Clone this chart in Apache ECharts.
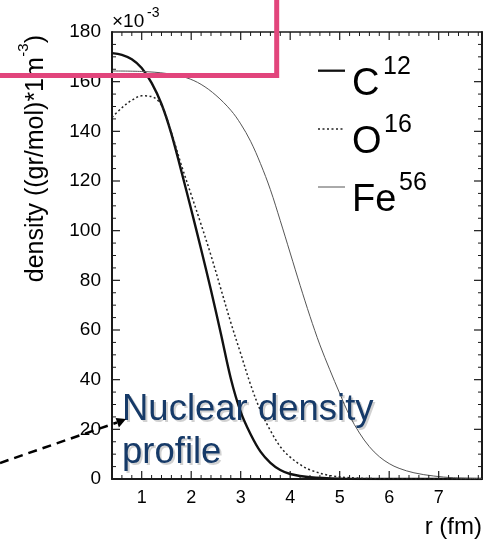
<!DOCTYPE html>
<html>
<head>
<meta charset="utf-8">
<script src="https://cdn.jsdelivr.net/npm/echarts@6/dist/echarts.min.js"></script>
<style>
html,body{margin:0;padding:0;background:#fff;}
#chart{width:491px;height:543px;}
</style>
</head>
<body>
<div id="chart"></div>
<script>
// ---- data ----
const c12R = [0.4,0.6,0.8,1.0,1.2,1.4,1.6,1.8,2.0,2.2,2.4,2.6,2.8,3.0,3.2,3.4,3.6,3.8,4.0,4.4,5.0,6.0,7.875];
const c12V = [171.5,170.8,169,165.5,159.5,151,139,124,108.5,92.5,76,58.5,40.5,27,18,11,6.5,3.6,2,0.7,0.15,0.02,0];
const o16R = [0.4,0.6,0.8,1.0,1.2,1.4,1.6,1.8,2.0,2.2,2.4,2.6,2.8,3.0,3.2,3.4,3.6,3.8,4.0,4.2,4.4,4.8,5.3,6.0,7.875];
const o16V = [145.6,149.5,152.5,154.3,154,150.5,139.5,126.5,114.5,102.5,90,76.5,63,50.5,38,27.5,19.5,13,8.8,5.8,3.7,1.4,0.4,0.1,0];
const fe56R = [0.4,1.0,1.5,1.9,2.2,2.5,2.8,3.0,3.2,3.4,3.6,3.8,4.0,4.2,4.4,4.6,4.8,5.0,5.2,5.4,5.6,5.8,6.0,6.2,6.5,6.9,7.3,7.875];
const fe56V = [164.3,164.1,163.3,161.6,158.9,154.5,148.5,143,136,127,116.5,104,91,78,65.5,54,44,34.5,25.5,18.5,13,9,6.2,4.3,2.5,1.2,0.5,0.15];
const xRange = [0.4, 7.875];
const xMajorTicks = [1, 2, 3, 4, 5, 6, 7];
const xMinorStep = 0.2;
const yRange = [0, 180];
const yStep = 20;
const yMinorStep = 5;
const seriesNames = ['C', 'O', 'Fe'];
const seriesSups = ['12', '16', '56'];
const yTitle = 'density ((gr/mol)*1m';
const yTitleSup = '-3';
const yTitleEnd = ')';
const xTitle = 'r (fm)';
const scaleText = '\u00d710';
const scaleSup = '-3';
const noteLines = ['Nuclear density', 'profile'];

const zip = (a, b) => a.map((v, i) => [v, b[i]]);
const FONTNAME = '"Liberation Sans", Arial, Helvetica, sans-serif';
const AX = '#1a1a1a';

// tick marks (axis furniture): [x, y, direction(0 up,1 down,2 right,3 left), length]
const tickMarks = [];
xMajorTicks.forEach(v => { tickMarks.push([v, yRange[0], 0, 8]); tickMarks.push([v, yRange[1], 1, 8]); });
for (let k = 0; ; k++) {
  const v = Math.round((xRange[0] + k * xMinorStep) * 10) / 10;
  if (v > xRange[1]) break;
  if (Math.abs(v - Math.round(v)) < 1e-6) continue;
  tickMarks.push([v, yRange[0], 0, 4]); tickMarks.push([v, yRange[1], 1, 4]);
}
for (let v = yRange[0] + yMinorStep; v < yRange[1]; v += yMinorStep) {
  const len = (v % yStep === 0) ? 8 : 4;
  tickMarks.push([xRange[0], v, 2, len]); tickMarks.push([xRange[1], v, 3, len]);
}

function xAx(pos) {
  return {
    type: 'value', position: pos, min: xRange[0], max: xRange[1], splitNumber: 8,
    axisLine: {show: true, onZero: false, lineStyle: {color: AX, width: pos === 'bottom' ? 2 : 1.5}},
    axisTick: {show: false},
    axisLabel: {show: pos === 'bottom', showMinLabel: false, showMaxLabel: false, fontSize: 18, color: '#000', margin: 10, fontFamily: FONTNAME},
    splitLine: {show: false}
  };
}
function yAx(pos) {
  return {
    type: 'value', position: pos, min: yRange[0], max: yRange[1], interval: yStep,
    axisLine: {show: true, onZero: false, lineStyle: {color: AX, width: 2}},
    axisTick: {show: false},
    minorTick: {show: false},
    axisLabel: {show: pos === 'left', fontSize: 19, color: '#000', margin: 11, fontFamily: FONTNAME},
    splitLine: {show: false}
  };
}

const mctx = document.createElement('canvas').getContext('2d');
function tw(text, size) { mctx.font = size + 'px ' + FONTNAME; return mctx.measureText(text).width; }

function txt(x, y, text, size, extra) {
  return Object.assign({type: 'text', z: 100, x: x, y: y,
    style: Object.assign({text: text, fill: '#000', font: size + 'px ' + FONTNAME, fontSize: size,
      align: 'left', verticalAlign: 'middle', textAlign: 'left', textVerticalAlign: 'middle'}, extra && extra.style || {})},
    extra && extra.el || {});
}

// ---- overlay elements ----
const legendY = [70.7, 129, 187];
const legendStyles = [
  {stroke: '#111', lineWidth: 2.3},
  {stroke: '#222', lineWidth: 1.4, lineDash: [2, 2.5]},
  {stroke: '#555', lineWidth: 1}
];
const legendSupX = [383, 384, 399];

const graphics = [];
for (let i = 0; i < 3; i++) {
  graphics.push({type: 'line', z: 100, shape: {x1: 318, y1: legendY[i], x2: 345, y2: legendY[i]}, style: legendStyles[i]});
  graphics.push(txt(352, legendY[i] + 13.5, seriesNames[i], 38));
  graphics.push(txt(legendSupX[i], legendY[i] - 3.5, seriesSups[i], 25));
}
graphics.push(txt(112, 21.5, scaleText, 19));
graphics.push(txt(147, 13, scaleSup, 14));

const yTop = 35, ySize = 25, ySupSize = 15;
const wEnd = tw(yTitleEnd, ySize), wSup = tw(yTitleSup, ySupSize);
const rotAlign = {align: 'right', textAlign: 'right'};
graphics.push(txt(36, yTop, yTitleEnd, ySize, {el: {rotation: Math.PI / 2}, style: rotAlign}));
graphics.push(txt(24, yTop + wEnd, yTitleSup, ySupSize, {el: {rotation: Math.PI / 2}, style: rotAlign}));
graphics.push(txt(36, yTop + wEnd + wSup + 0.5, yTitle, ySize, {el: {rotation: Math.PI / 2}, style: rotAlign}));

graphics.push(txt(482, 527, xTitle, 24, {style: {align: 'right', textAlign: 'right'}}));

const noteY = [410, 453];
for (let i = 0; i < 2; i++) {
  graphics.push(txt(124, noteY[i] + 2, noteLines[i], 36.5, {el: {z: 149}, style: {fill: 'rgba(0,0,0,0.18)'}}));
  graphics.push(txt(122, noteY[i], noteLines[i], 36.5, {el: {z: 150}, style: {fill: '#163a68'}}));
}
graphics.push({type: 'line', z: 150, shape: {x1: 0, y1: 463, x2: 117, y2: 422.5},
  style: {stroke: '#000', lineWidth: 2.5, lineDash: [9, 6]}});
graphics.push({type: 'polygon', z: 150, shape: {points: [[126, 419], [115.6, 418], [118.9, 427.4]]},
  style: {fill: '#000'}});
graphics.push({type: 'rect', z: 200, shape: {x: -20, y: -20, width: 296.7, height: 95.5},
  style: {fill: 'none', stroke: '#e2457c', lineWidth: 5}});

const chart = echarts.init(document.getElementById('chart'));
const option = {
  animation: false,
  grid: {left: 112, right: 9, top: 32, bottom: 64},
  xAxis: [xAx('bottom'), xAx('top')],
  yAxis: [yAx('left'), yAx('right')],
  series: [
    {name: 'C12', type: 'line', data: zip(c12R, c12V), showSymbol: false, smooth: 0.35,
      lineStyle: {color: '#111', width: 2.4}},
    {name: 'O16', type: 'line', data: zip(o16R, o16V), showSymbol: false, smooth: 0.35,
      lineStyle: {color: '#222', width: 1.5, type: [2, 2.5]}},
    {name: 'Fe56', type: 'line', data: zip(fe56R, fe56V), showSymbol: false, smooth: 0.35,
      lineStyle: {color: '#555', width: 1}},
    {name: 'ticks', type: 'custom', silent: true, z: 6, clip: false,
      data: tickMarks,
      encode: {x: 0, y: 1},
      renderItem: function (params, api) {
        const p = api.coord([api.value(0), api.value(1)]);
        const d = api.value(2), L = api.value(3);
        let dx = 0, dy = 0;
        if (d === 0) dy = -L; else if (d === 1) dy = L; else if (d === 2) dx = L; else dx = -L;
        return {type: 'line', shape: {x1: p[0], y1: p[1], x2: p[0] + dx, y2: p[1] + dy},
          style: {stroke: AX, lineWidth: L === 8 ? 1.2 : 1, fill: null}};
      }
    }
  ],
  graphic: {elements: graphics}
};
chart.setOption(option);
</script>
</body>
</html>
